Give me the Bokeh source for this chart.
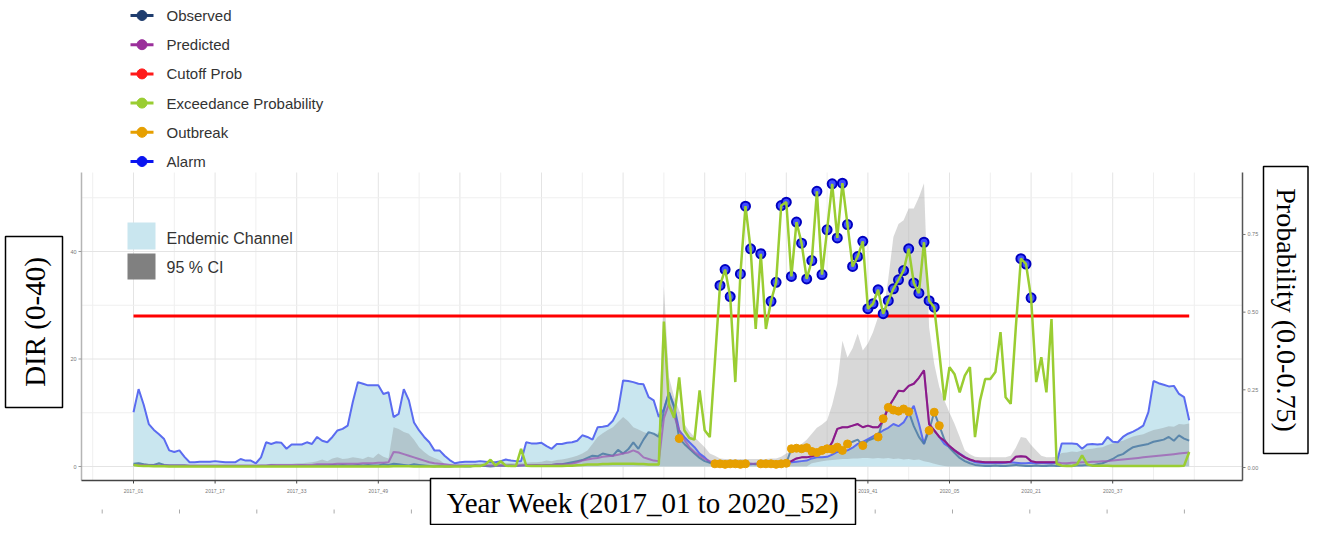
from bokeh.plotting import figure
from bokeh.models import Range1d
from bokeh.core.properties import value
from bokeh.embed import file_html
from bokeh.resources import INLINE

# ---------------- data (week index 0 = 2017_01 ... 207 = 2020_52) ----------------
tick_weeks = [0, 16, 32, 48, 64, 80, 96, 112, 128, 144, 160, 176, 192]
tick_labels = ["2017_01", "2017_17", "2017_33", "2017_49", "2018_13", "2018_29",
               "2018_45", "2019_09", "2019_25", "2019_41", "2020_05", "2020_21", "2020_37"]
dir_ticks = [0, 20, 40]
dir_tick_labels = ["0", "20", "40"]
prob_ticks = [0.0, 0.25, 0.5, 0.75]
prob_tick_labels = ["0.00", "0.25", "0.50", "0.75"]

endemic_upper = [
    10.1, 14.4, 11.5, 7.9, 6.8, 6.0, 5.1, 3.0, 2.7, 3.0,
    1.8, 0.8, 0.8, 0.9, 0.9, 0.9, 1.0, 0.9, 0.8, 0.8,
    0.8, 1.4, 1.1, 1.1, 0.6, 1.7, 4.5, 4.2, 4.5, 4.4,
    3.3, 4.1, 4.1, 4.1, 4.5, 4.2, 5.5, 4.8, 4.5, 5.5,
    6.7, 7.0, 7.6, 12.0, 15.7, 15.4, 15.1, 15.1, 15.1, 13.5,
    13.8, 9.2, 9.8, 14.4, 12.3, 8.2, 6.7, 5.5, 4.5, 3.0,
    3.0, 2.0, 1.2, 0.6, 0.8, 0.9, 0.9, 0.9, 1.0, 0.9,
    0.8, 0.8, 1.0, 1.3, 1.1, 1.0, 1.0, 4.5, 4.3, 4.3,
    4.4, 3.8, 3.3, 4.2, 4.2, 4.4, 4.5, 4.8, 5.8, 5.5,
    5.0, 7.3, 7.4, 7.6, 8.5, 10.4, 16.0, 15.9, 15.7, 15.4,
    15.3, 12.9, 12.3, 9.2, 10.7, 13.8, 11.3, 6.7, 5.5, 4.5,
    3.6, 2.4, 1.7, 0.8, 0.6, 0.5, 0.5, 0.4, 0.5, 0.5,
    0.5, 0.4, 0.5, 0.5, 0.6, 0.5, 0.5, 0.6, 0.7, 0.8,
    0.9, 1.0, 1.1, 1.5, 1.7, 1.7, 1.8, 2.2, 2.7, 2.8,
    3.0, 3.5, 4.2, 4.6, 5.1, 5.6, 6.1, 6.7, 7.2, 7.9,
    7.5, 8.2, 9.8, 11.3, 8.0, 4.2, 7.5, 6.7, 5.5, 4.2,
    3.6, 3.0, 2.4, 1.8, 1.2, 0.8, 0.7, 0.6, 0.6, 0.7,
    0.6, 0.7, 0.8, 0.7, 0.6, 0.6, 0.7, 0.6, 0.7, 0.6,
    0.6, 0.7, 4.3, 4.3, 4.3, 4.2, 3.3, 4.1, 4.2, 4.1,
    4.2, 5.5, 4.6, 4.5, 5.5, 6.1, 6.5, 7.0, 7.6, 10.1,
    15.9, 15.5, 15.2, 14.9, 15.0, 13.5, 12.9, 8.6,
]

ci_upper = [
    0.6, 0.8, 0.6, 0.5, 0.5, 0.6, 0.5, 0.4, 0.4, 0.4,
    0.4, 0.3, 0.3, 0.3, 0.3, 0.3, 0.3, 0.3, 0.3, 0.3,
    0.3, 0.3, 0.3, 0.3, 0.3, 0.4, 0.4, 0.5, 0.5, 0.5,
    0.5, 0.5, 0.6, 0.6, 0.7, 0.8, 1.0, 1.3, 1.0, 1.5,
    1.7, 1.4, 1.5, 1.7, 1.6, 1.4, 1.8, 1.6, 2.4, 1.8,
    1.5, 7.3, 7.0, 6.4, 6.1, 5.0, 3.6, 2.7, 2.0, 1.6,
    1.2, 0.5, 0.5, 0.5, 0.5, 0.5, 0.5, 0.5, 0.5, 0.6,
    0.6, 0.6, 0.7, 0.6, 0.6, 0.6, 0.7, 0.7, 0.8, 0.8,
    0.9, 1.1, 1.0, 1.2, 1.3, 1.5, 1.7, 2.0, 2.4, 3.0,
    4.2, 5.5, 6.2, 6.8, 7.3, 8.3, 9.2, 8.4, 7.3, 6.9,
    6.4, 6.1, 6.0, 6.2, 33.5, 16.6, 13.0, 10.4, 7.9, 6.5,
    5.5, 4.5, 3.6, 2.4, 2.0, 1.5, 1.4, 1.4, 1.4, 1.4,
    1.4, 1.4, 1.4, 1.4, 1.4, 1.5, 1.5, 1.8, 2.4, 3.0,
    3.6, 4.2, 5.0, 6.1, 7.2, 7.8, 8.6, 11.5, 15.4, 23.4,
    20.3, 22.0, 24.7, 21.6, 22.9, 25.0, 27.8, 28.5, 35.0, 42.7,
    45.1, 45.8, 48.0, 48.0, 50.1, 52.7, 25.9, 19.1, 14.8, 12.3,
    10.0, 7.9, 5.5, 3.0, 2.3, 1.8, 1.7, 1.7, 1.7, 1.7,
    1.7, 1.7, 2.0, 3.5, 5.5, 5.3, 4.0, 3.0, 2.0, 1.7,
    1.7, 1.8, 2.5, 2.6, 2.8, 2.7, 3.0, 3.2, 3.3, 3.5,
    3.6, 4.0, 4.3, 4.6, 4.8, 5.2, 5.6, 5.8, 6.0, 6.4,
    6.8, 7.0, 7.2, 7.5, 7.4, 7.9, 7.8, 8.0,
]

ci_lower = ([0.0] * 133 + [
    0.6, 0.8, 1.0, 1.1, 1.2, 1.3, 1.4, 1.4, 1.5, 1.5,
    1.6, 1.6, 1.5, 1.6, 1.5, 1.6, 1.4, 1.5, 1.3, 1.4,
    1.2, 1.3, 1.0, 0.8, 0.5, 0.3, 0.1,
] + [0.0] * 48)

observed = [
    0.5, 0.6, 0.4, 0.3, 0.3, 0.6, 0.3, 0.2, 0.2, 0.2,
    0.2, 0.1, 0.1, 0.1, 0.1, 0.1, 0.1, 0.1, 0.1, 0.1,
    0.1, 0.1, 0.1, 0.1, 0.1, 0.1, 0.1, 0.2, 0.1, 0.1,
    0.1, 0.1, 0.1, 0.2, 0.1, 0.1, 0.2, 0.2, 0.2, 0.3,
    0.2, 0.3, 0.2, 0.2, 0.3, 0.2, 0.3, 0.2, 0.2, 0.4,
    0.3, 0.5, 0.4, 0.3, 0.2, 0.4, 0.3, 0.2, 0.1, 0.0,
    0.1, 0.0, 0.0, 0.1, 0.1, 0.0, 0.0, 0.2, 0.1, 0.1,
    0.0, 0.1, 0.2, 0.1, 0.2, 0.1, 0.2, 0.2, 0.2, 0.3,
    0.2, 0.3, 0.3, 0.4, 0.4, 0.6, 0.8, 1.0, 1.2, 1.6,
    2.0, 1.9, 2.4, 2.2, 2.0, 3.1, 2.4, 3.2, 4.5, 3.3,
    5.0, 6.4, 6.1, 5.5, 10.4, 13.8, 11.0, 5.2, 4.2, 3.3,
    2.4, 1.6, 1.0, 0.7, 0.5, 0.5, 0.4, 0.5, 0.5, 0.4,
    0.5, 0.5, 0.4, 0.5, 0.5, 0.5, 0.4, 0.5, 0.6, 3.3,
    3.4, 3.3, 3.5, 2.8, 2.6, 3.0, 3.3, 3.2, 3.6, 3.0,
    4.2, 4.6, 5.0, 3.9, 4.8, 5.2, 5.5, 8.9, 11.0, 10.5,
    10.3, 10.7, 10.2, 7.5, 5.5, 4.2, 6.7, 10.1, 7.6, 5.0,
    3.5, 2.5, 1.6, 1.0, 0.6, 0.3, 0.2, 0.1, 0.1, 0.2,
    0.1, 0.1, 0.2, 0.3, 0.2, 0.1, 0.1, 0.2, 0.1, 0.1,
    0.2, 0.1, 0.1, 0.2, 0.1, 0.2, 0.2, 0.3, 0.2, 0.4,
    0.6, 1.0, 1.4, 2.0, 2.3, 3.0, 3.6, 3.8, 4.0, 4.2,
    4.6, 4.8, 5.0, 5.5, 4.8, 5.8, 5.2, 4.8,
]

predicted = [
    0.3, 0.3, 0.3, 0.2, 0.2, 0.2, 0.2, 0.2, 0.2, 0.2,
    0.2, 0.2, 0.2, 0.2, 0.2, 0.2, 0.2, 0.2, 0.2, 0.2,
    0.2, 0.2, 0.2, 0.2, 0.2, 0.2, 0.2, 0.3, 0.3, 0.3,
    0.3, 0.3, 0.3, 0.3, 0.3, 0.3, 0.4, 0.4, 0.4, 0.4,
    0.5, 0.5, 0.5, 0.5, 0.5, 0.6, 0.6, 0.6, 0.7, 0.7,
    0.8, 2.7, 2.6, 2.3, 2.0, 1.7, 1.4, 1.1, 0.8, 0.6,
    0.5, 0.4, 0.3, 0.2, 0.2, 0.2, 0.2, 0.2, 0.2, 0.2,
    0.2, 0.2, 0.2, 0.2, 0.2, 0.2, 0.2, 0.3, 0.3, 0.3,
    0.3, 0.3, 0.3, 0.4, 0.4, 0.4, 0.5, 0.8, 1.1, 1.3,
    1.5, 1.6, 1.8, 1.9, 2.0, 2.2, 2.4, 2.6, 3.0, 2.6,
    1.7, 1.4, 1.1, 1.0, 9.0, 11.7, 9.5, 6.7, 5.0, 3.6,
    2.7, 2.0, 1.4, 1.0, 0.7, 0.5, 0.5, 0.5, 0.5, 0.5,
    0.5, 0.5, 0.5, 0.5, 0.5, 0.5, 0.6, 0.6, 0.7, 1.0,
    1.5, 1.7, 1.7, 1.9, 2.2, 2.6, 3.0, 4.5, 7.0, 7.3,
    7.3, 7.6, 7.9, 7.3, 7.6, 7.3, 7.3, 8.5, 11.0, 12.5,
    14.1, 14.0, 15.0, 15.4, 16.5, 17.9, 7.9, 6.7, 5.5, 4.8,
    3.8, 3.0, 2.3, 1.7, 1.3, 1.0, 0.9, 0.8, 0.8, 0.8,
    0.8, 0.8, 0.9, 1.8, 1.9, 1.8, 1.0, 0.8, 0.8, 0.8,
    0.8, 0.8, 0.6, 0.6, 0.7, 0.7, 0.8, 0.8, 0.9, 0.9,
    1.0, 1.0, 1.1, 1.2, 1.3, 1.4, 1.5, 1.6, 1.7, 1.8,
    1.9, 2.0, 2.1, 2.2, 2.3, 2.4, 2.5, 2.6,
]

exceed_prob = [
    0.008, 0.006, 0.005, 0.005, 0.004, 0.004, 0.004, 0.003, 0.003, 0.003,
    0.003, 0.003, 0.003, 0.003, 0.003, 0.003, 0.003, 0.003, 0.003, 0.003,
    0.003, 0.003, 0.003, 0.003, 0.003, 0.003, 0.003, 0.003, 0.003, 0.003,
    0.003, 0.003, 0.003, 0.003, 0.003, 0.003, 0.003, 0.003, 0.003, 0.003,
    0.003, 0.003, 0.003, 0.003, 0.003, 0.003, 0.003, 0.003, 0.003, 0.003,
    0.003, 0.004, 0.004, 0.004, 0.004, 0.003, 0.003, 0.003, 0.003, 0.003,
    0.003, 0.003, 0.003, 0.003, 0.003, 0.004, 0.004, 0.005, 0.005, 0.010,
    0.025, 0.006, 0.020, 0.006, 0.005, 0.005, 0.060, 0.006, 0.005, 0.005,
    0.005, 0.005, 0.005, 0.005, 0.005, 0.006, 0.006, 0.007, 0.008, 0.010,
    0.010, 0.010, 0.011, 0.011, 0.012, 0.012, 0.012, 0.012, 0.012, 0.011,
    0.011, 0.010, 0.010, 0.010, 0.470, 0.200, 0.160, 0.290, 0.120, 0.095,
    0.090, 0.248, 0.120, 0.098, 0.340, 0.586, 0.637, 0.550, 0.275, 0.623,
    0.841, 0.704, 0.446, 0.688, 0.446, 0.535, 0.596, 0.843, 0.854, 0.615,
    0.790, 0.722, 0.607, 0.666, 0.889, 0.621, 0.765, 0.913, 0.739, 0.915,
    0.782, 0.647, 0.679, 0.728, 0.511, 0.527, 0.572, 0.495, 0.537, 0.575,
    0.604, 0.634, 0.704, 0.594, 0.561, 0.725, 0.537, 0.516, 0.370, 0.216,
    0.323, 0.300, 0.242, 0.296, 0.323, 0.098, 0.216, 0.285, 0.285, 0.307,
    0.436, 0.226, 0.205, 0.450, 0.672, 0.655, 0.546, 0.275, 0.355, 0.242,
    0.478, 0.012, 0.006, 0.005, 0.005, 0.010, 0.039, 0.010, 0.006, 0.006,
    0.006, 0.006, 0.005, 0.005, 0.005, 0.005, 0.005, 0.005, 0.005, 0.005,
    0.005, 0.005, 0.005, 0.005, 0.005, 0.005, 0.006, 0.050,
]

cutoff_prob = 0.488

outbreak_weeks = [107, 114, 115, 116, 117, 118, 119, 120, 123, 124, 125, 126, 127, 128,
                  129, 130, 131, 132, 133, 134, 135, 136, 137, 138, 139, 140, 143, 146,
                  147, 148, 149, 150, 151, 152, 156, 157, 158]

legend_names = ["Observed", "Predicted", "Cutoff Prob", "Exceedance Probability",
                "Outbreak", "Alarm"]
legend_colors = ["#1f3d6e", "#9b2f9b", "#ff1a1a", "#9acd32", "#E69F00", "#0a14f0"]
fill_names = ["Endemic Channel", "95 % CI"]
fill_colors = ["#c9e6ef", "#808080"]

weeks = list(range(208))
for arr in (endemic_upper, ci_upper, ci_lower, observed, predicted, exceed_prob):
    assert len(arr) == 208, len(arr)


# ---------------- layout helpers (picture pixel -> data units) ----------------
def dx(X):
    return (X - 133.0) / 5.1


def dy(Y):
    return (466.0 - Y) / 5.375


def dp(Y):
    return (467.0 - Y) / 310.7


W, H = 1309, 525
p = figure(width=W, height=H, output_backend="svg", toolbar_location=None,
           x_range=Range1d(dx(0), dx(W)), y_range=Range1d(dy(H), dy(0)),
           x_axis_location=None, y_axis_location=None,
           min_border=0, min_border_left=0, min_border_right=0,
           min_border_top=0, min_border_bottom=0)
p.extra_y_ranges = {"prob": Range1d(dp(H), dp(0))}
p.grid.visible = False
p.outline_line_color = None
p.background_fill_color = "white"
p.border_fill_color = "white"

FONT = "Liberation Sans"
SERIF = "Liberation Serif"

X0, X1, Y0, Y1 = dx(81), dx(1242), dy(480), dy(172)   # panel edges

# ---------------- panel grid ----------------
minor_x = [-8] + [t + 8 for t in tick_weeks] + [208]
p.segment(x0=minor_x, y0=[Y0] * len(minor_x), x1=minor_x, y1=[Y1] * len(minor_x),
          line_color="#efefef", line_width=1)
p.segment(x0=tick_weeks, y0=[Y0] * len(tick_weeks), x1=tick_weeks,
          y1=[Y1] * len(tick_weeks), line_color="#e4e4e4", line_width=1)
minor_y = [10, 30, 50]
p.segment(x0=[X0] * 3, y0=minor_y, x1=[X1] * 3, y1=minor_y,
          line_color="#efefef", line_width=1)
p.segment(x0=[X0] * 3, y0=dir_ticks, x1=[X1] * 3, y1=dir_ticks,
          line_color="#e4e4e4", line_width=1)

# ---------------- data glyphs ----------------
p.varea(x=weeks, y1=[0.0] * len(weeks), y2=endemic_upper,
        fill_color=fill_colors[0], fill_alpha=1.0)
p.varea(x=weeks, y1=ci_lower, y2=ci_upper, fill_color="#7f7f7f", fill_alpha=0.3)
p.line(weeks, endemic_upper, line_color="#5b6cf0", line_width=2)
p.line(weeks, observed, line_color="#4a7aa5", line_width=2, line_alpha=0.85)
p.line(weeks, predicted, line_color="#9c5ab4", line_width=2, line_alpha=0.75)
dark = [w for w in weeks if 128 <= w <= 181]
p.line(dark, [predicted[w] for w in dark], line_color="#8b1a89", line_width=2)
p.scatter(outbreak_weeks, [observed[w] for w in outbreak_weeks], marker="circle",
          size=8, fill_color="#E69F00", line_color="#E69F00")
p.line(weeks, [cutoff_prob] * len(weeks), line_color="#ff0000", line_width=3,
       y_range_name="prob")
alarm_w = [w for w in weeks if exceed_prob[w] > cutoff_prob]
p.scatter(alarm_w, [exceed_prob[w] for w in alarm_w], marker="circle", size=9,
          fill_color="#3f4dff", line_color="#0000c0", line_width=2,
          y_range_name="prob")
p.line(weeks, exceed_prob, line_color="#9acd32", line_width=2.5, y_range_name="prob")

# ---------------- axes (lines, ticks, tick labels) ----------------
p.segment(x0=[X0], y0=[Y0], x1=[X0], y1=[Y1], line_color="#b5b5b5", line_width=1.5)
p.segment(x0=[X1], y0=[Y0], x1=[X1], y1=[Y1], line_color="#555555", line_width=1.5)
p.segment(x0=[X0], y0=[Y0], x1=[X1], y1=[Y0], line_color="#444444", line_width=1.5)
p.segment(x0=tick_weeks, y0=[Y0] * len(tick_weeks), x1=tick_weeks,
          y1=[dy(483)] * len(tick_weeks), line_color="#444444", line_width=1)
p.segment(x0=[dx(78)] * 3, y0=dir_ticks, x1=[X0] * 3, y1=dir_ticks,
          line_color="#999999", line_width=1)
p.segment(x0=[X1] * 4, y0=prob_ticks, x1=[dx(1245)] * 4, y1=prob_ticks,
          line_color="#777777", line_width=1, y_range_name="prob")
p.text(x=tick_weeks, y=[dy(490)] * len(tick_weeks), text=tick_labels,
       text_font=value(FONT), text_font_size=value("5px"), text_color="#777777",
       text_align="center", text_baseline="middle")
p.text(x=[dx(76)] * 3, y=dir_ticks, text=dir_tick_labels,
       text_font=value(FONT), text_font_size=value("5.5px"), text_color="#777777",
       text_align="right", text_baseline="middle")
p.text(x=[dx(1247)] * 4, y=prob_ticks, text=prob_tick_labels, y_range_name="prob",
       text_font=value(FONT), text_font_size=value("5.5px"), text_color="#777777",
       text_align="left", text_baseline="middle")
# faint tick marks of a lower strip that is cut off in the original
strip_x = [dx(101.7 + 77.3 * k) for k in range(15)]
p.segment(x0=strip_x, y0=[dy(509)] * 15, x1=strip_x, y1=[dy(513)] * 15,
          line_color="#aaaaaa", line_width=1)

# ---------------- legends ----------------
leg_y = [dy(15 + 29.2 * k) for k in range(len(legend_names))]
p.segment(x0=[dx(130)] * 6, y0=leg_y, x1=[dx(153)] * 6, y1=leg_y,
          line_color=legend_colors, line_width=3)
p.scatter([dx(141.5)] * 6, leg_y, marker="circle", size=10,
          fill_color=legend_colors, line_color=legend_colors)
p.text(x=[dx(166)] * 6, y=leg_y, text=legend_names, text_font=value(FONT),
       text_font_size=value("15px"), text_color="#333333", text_baseline="middle")

p.quad(left=[dx(127)] * 2, right=[dx(155)] * 2, top=[dy(222), dy(253)],
       bottom=[dy(249), dy(279)], fill_color=fill_colors, line_color=None)
p.text(x=[dx(166)] * 2, y=[dy(237.5), dy(267)], text=fill_names, text_font=value(FONT),
       text_font_size=value("16px"), text_color="#333333", text_baseline="middle")

# ---------------- boxed axis titles ----------------
p.quad(left=[dx(430), dx(5), dx(1263)], right=[dx(855), dx(62), dx(1307.5)],
       top=[dy(478), dy(236), dy(166)], bottom=[dy(524), dy(407), dy(453)],
       fill_color="white", line_color="black", line_width=1.5)
p.text(x=[dx(642.5)], y=[dy(502)], text=["Year Week (2017_01 to 2020_52)"],
       text_font=value(SERIF), text_font_size=value("29px"), text_color="black",
       text_align="center", text_baseline="middle")
p.text(x=[dx(34)], y=[dy(321.5)], text=["DIR (0-40)"], angle=1.5707963,
       text_font=value(SERIF), text_font_size=value("29px"), text_color="black",
       text_align="center", text_baseline="middle")
p.text(x=[dx(1285.5)], y=[dy(309.5)], text=["Probability (0.0-0.75)"],
       angle=-1.5707963, text_font=value(SERIF), text_font_size=value("28px"),
       text_color="black", text_align="center", text_baseline="middle")

open("out.html", "w").write(file_html(p, INLINE))
